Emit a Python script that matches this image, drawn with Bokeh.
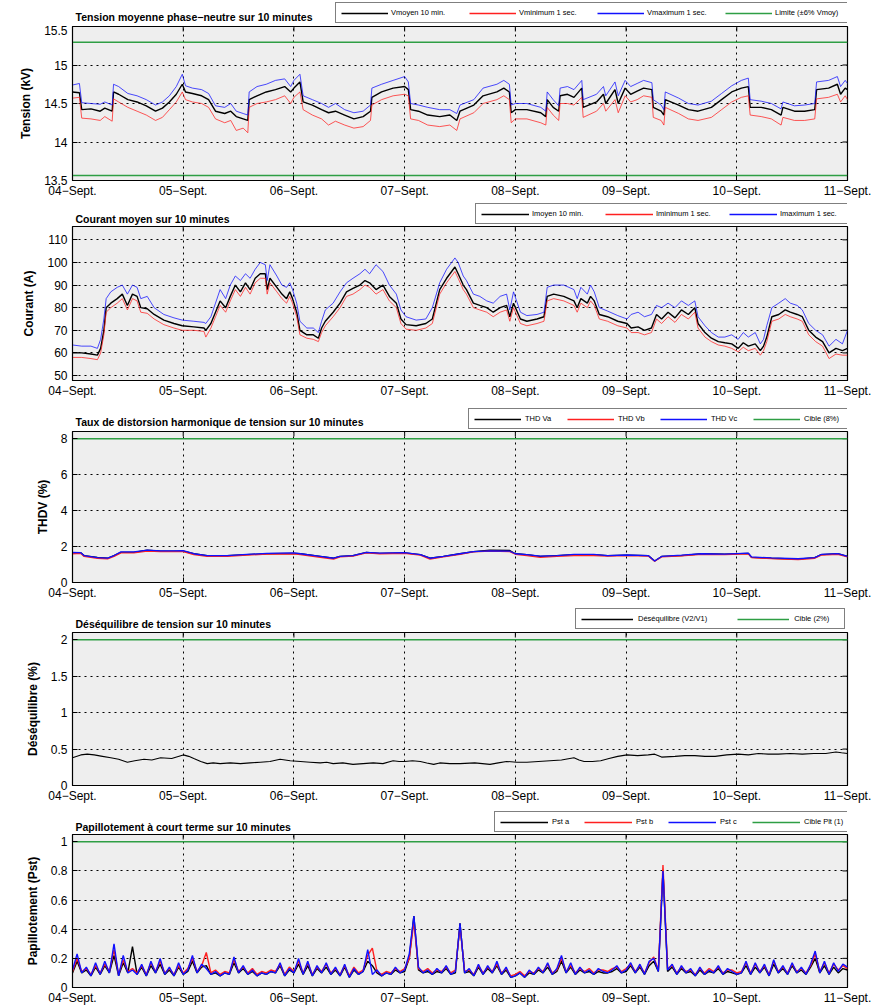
import math

from bokeh.embed import file_html
from bokeh.layouts import column
from bokeh.models import FixedTicker, Label, Legend, LegendItem, Range1d
from bokeh.plotting import figure
from bokeh.resources import INLINE

# ---------------------------------------------------------------------------
# Time axis: hours elapsed since 04-Sept 00:00
# ---------------------------------------------------------------------------
DAY_TICKS = [0, 24, 48, 72, 96, 120, 144, 168]
DAY_LABELS = ["04−Sept.", "05−Sept.", "06−Sept.", "07−Sept.",
              "08−Sept.", "09−Sept.", "10−Sept.", "11−Sept."]

# ---------------------------------------------------------------------------
# Panel 1 - phase-to-neutral voltage (kV)
# ---------------------------------------------------------------------------
tension_h = [0, 1.5, 2.0, 4, 6, 7, 8.6, 8.9, 10, 12,
             14, 16, 18, 19.5, 21, 22.5, 23.8, 24.5, 26, 28,
             29.5, 31, 33, 34.3, 35.5, 37, 38, 38.3, 40, 42,
             44, 46, 47.3, 48, 49.3, 50, 52, 54, 55.5, 57,
             59, 61, 63, 64.6, 64.9, 67, 69.5, 72, 72.8, 73.3,
             75, 77, 79.6, 81.8, 83.3, 84, 87, 89, 92, 93.5,
             94.7, 95.1, 96, 98.5, 101.5, 102.6, 102.9, 104.2, 105.4, 105.7,
             107.3, 108.7, 110.4, 110.7, 113.6, 115.1, 115.6, 117.6, 118.3, 119.8,
             121, 122.4, 123.8, 125.6, 125.9, 127.6, 128.2, 128.5, 131.4, 133.5,
             135.6, 138.5, 140.7, 142.9, 145, 146.5, 146.9, 149.3, 151.5, 153.6,
             154, 156.5, 158.7, 160.9, 161.3, 163.9, 165.8, 166.5, 167.5, 168]
v_moyen = [14.65, 14.64, 14.42, 14.43, 14.40, 14.44, 14.40, 14.65, 14.62, 14.55,
           14.52, 14.47, 14.40, 14.44, 14.52, 14.62, 14.75, 14.65, 14.63, 14.60,
           14.55, 14.40, 14.37, 14.40, 14.33, 14.30, 14.28, 14.55, 14.60, 14.65,
           14.68, 14.72, 14.65, 14.70, 14.78, 14.52, 14.48, 14.42, 14.38, 14.40,
           14.35, 14.30, 14.33, 14.40, 14.58, 14.65, 14.70, 14.72, 14.68, 14.42,
           14.40, 14.35, 14.33, 14.35, 14.28, 14.40, 14.48, 14.60, 14.65, 14.70,
           14.65, 14.38, 14.42, 14.42, 14.38, 14.33, 14.55, 14.45, 14.40, 14.60,
           14.62, 14.58, 14.70, 14.45, 14.52, 14.62, 14.50, 14.68, 14.50, 14.70,
           14.62, 14.66, 14.70, 14.68, 14.45, 14.40, 14.35, 14.55, 14.48, 14.42,
           14.40, 14.45, 14.55, 14.65, 14.70, 14.72, 14.45, 14.45, 14.42, 14.35,
           14.45, 14.40, 14.40, 14.42, 14.68, 14.70, 14.75, 14.62, 14.70, 14.68]
v_minimum = [14.57, 14.58, 14.31, 14.30, 14.28, 14.33, 14.27, 14.56, 14.52, 14.45,
             14.40, 14.35, 14.28, 14.32, 14.42, 14.52, 14.65, 14.55, 14.52, 14.50,
             14.45, 14.30, 14.25, 14.28, 14.15, 14.18, 14.12, 14.45, 14.50, 14.52,
             14.55, 14.60, 14.50, 14.58, 14.65, 14.42, 14.35, 14.30, 14.22, 14.27,
             14.22, 14.18, 14.20, 14.28, 14.48, 14.55, 14.60, 14.62, 14.60, 14.30,
             14.28, 14.22, 14.20, 14.22, 14.15, 14.30, 14.38, 14.50, 14.55, 14.60,
             14.55, 14.25, 14.30, 14.30, 14.25, 14.22, 14.45, 14.35, 14.28, 14.50,
             14.50, 14.48, 14.58, 14.32, 14.40, 14.50, 14.40, 14.55, 14.38, 14.60,
             14.52, 14.55, 14.60, 14.58, 14.32, 14.28, 14.22, 14.45, 14.37, 14.30,
             14.28, 14.32, 14.42, 14.52, 14.58, 14.60, 14.35, 14.33, 14.30, 14.22,
             14.32, 14.28, 14.28, 14.30, 14.56, 14.58, 14.62, 14.52, 14.60, 14.55]
v_maximum = [14.74, 14.76, 14.51, 14.50, 14.49, 14.52, 14.48, 14.75, 14.72, 14.63,
             14.60, 14.55, 14.48, 14.52, 14.60, 14.72, 14.88, 14.73, 14.70, 14.68,
             14.63, 14.47, 14.45, 14.50, 14.40, 14.37, 14.35, 14.65, 14.72, 14.75,
             14.80, 14.82, 14.72, 14.80, 14.88, 14.60, 14.55, 14.50, 14.45, 14.50,
             14.42, 14.38, 14.40, 14.48, 14.70, 14.75, 14.80, 14.85, 14.78, 14.50,
             14.48, 14.45, 14.42, 14.42, 14.37, 14.48, 14.55, 14.70, 14.75, 14.80,
             14.75, 14.48, 14.50, 14.50, 14.45, 14.40, 14.65, 14.55, 14.47, 14.70,
             14.72, 14.68, 14.80, 14.55, 14.62, 14.72, 14.60, 14.78, 14.60, 14.80,
             14.72, 14.76, 14.80, 14.77, 14.55, 14.48, 14.42, 14.65, 14.57, 14.50,
             14.48, 14.53, 14.63, 14.73, 14.80, 14.83, 14.55, 14.53, 14.50, 14.43,
             14.52, 14.47, 14.48, 14.50, 14.78, 14.80, 14.85, 14.72, 14.80, 14.76]
V_NOMINAL = 14.43          # 25 kV / sqrt(3)
LIMIT_PCT = 6.0            # +/- 6 %

# ---------------------------------------------------------------------------
# Panel 2 - current (A)
# ---------------------------------------------------------------------------
courant_h = [0, 2, 4, 5.4, 6.1, 6.8, 7.3, 8.3, 9.7, 10.8,
             11.9, 13, 14, 14.8, 16.2, 17.7, 19.8, 22, 23.8, 26.3,
             28.5, 28.9, 30, 31, 32, 33.2, 34.2, 35.3, 36.4, 37.5,
             38.5, 39.6, 40.7, 41.8, 42.2, 42.8, 44.3, 45.4, 46.4, 47.1,
             47.7, 48.6, 49.3, 50.8, 52.2, 53.3, 54, 54.8, 56.5, 58,
             59.4, 60.8, 62.3, 63.4, 64.4, 65.8, 67.3, 68.7, 70.2, 71.2,
             72.3, 74.5, 76.6, 78, 79.6, 81.1, 82.9, 83.6, 84.7, 85.4,
             86.9, 88.3, 89.8, 91.2, 92.7, 94.1, 94.8, 95.6, 97.1, 98.5,
             100.7, 102.2, 102.9, 104.3, 106.5, 108.7, 109.4, 110.2, 111.6, 112.3,
             113.1, 114.2, 116, 118.2, 120.2, 121.1, 122.6, 124, 125.5, 126.6,
             127.7, 129.1, 130.6, 132, 133.5, 134.9, 135.6, 137.1, 138.5, 140,
             141.4, 142.9, 144.3, 145.4, 146.5, 148, 149.1, 149.8, 150.5, 151.6,
             153.1, 154.5, 155.6, 157.1, 158.2, 159.6, 161.1, 162.6, 164, 165.5,
             166.9, 168]
i_moyen = [60, 60, 59.5, 59, 62, 70, 80, 82, 84, 86,
           81, 86, 85, 80, 79.5, 77, 74.5, 73, 72, 71.5,
           71, 70, 73, 78, 83, 80, 85, 90, 87, 91,
           88, 93, 95, 95, 88, 93, 89, 86, 84, 87,
           84, 78, 70, 68, 68, 66.5, 71, 74, 78, 82,
           87, 88.5, 90, 92, 91, 88, 90, 85, 82, 75,
           72.5, 72, 73, 75, 88, 93, 98, 95, 90, 88,
           82, 81, 80, 78, 80, 81, 76, 82, 75, 74,
           75, 76, 85, 86, 85, 83, 80, 84, 82, 85,
           83, 77, 76, 74, 73, 71, 71.5, 70, 71, 77,
           75, 78, 75.5, 79, 77, 80, 73, 69, 66.5, 65,
           64.5, 64, 62, 64.5, 63, 64, 61, 63, 67, 76,
           77, 79, 78, 77, 76, 70, 67, 65, 60, 62,
           61, 62]
i_minimum = [58, 58, 57.5, 57, 60, 68, 78, 80, 82, 84,
             79, 84, 83, 78, 77.5, 75, 72.5, 71, 70, 70,
             69.5, 67, 71, 76, 81, 78, 83, 88, 85, 89,
             86, 91, 93, 93, 86, 91, 87, 84, 82, 85,
             82, 76, 68, 66.5, 66, 65, 69, 72, 76, 80,
             85, 86, 88, 90, 89, 86, 88, 83, 80, 73,
             70.5, 70, 71, 73, 86, 91, 96, 93, 88, 86,
             80, 79, 78, 76, 78, 79, 74, 80, 73, 72,
             73, 74, 83, 84, 83, 81, 78, 82, 80, 83,
             81, 75, 74, 72, 71, 69, 69, 68, 69, 75,
             73, 76, 73.5, 77, 75, 78, 71, 67, 65, 63.5,
             63, 62, 60.5, 62.5, 61, 62, 59, 61, 65, 74,
             75, 77, 76, 75, 74, 68, 65, 63, 57.5, 59.5,
             59, 59]
i_maximum = [63.5, 63, 63, 62, 66, 75, 84, 87, 89, 90,
             86, 90, 89, 84, 85, 80, 77, 75.5, 74.5, 74,
             73.5, 73, 76, 82, 88, 84, 90, 94, 92, 95,
             93, 97, 100, 99, 92, 99, 94, 90, 89, 91,
             88, 82, 74, 71, 71, 69, 74, 79, 82, 87,
             91, 93, 95, 97, 95, 99, 96, 90, 86, 79,
             76, 74.5, 75, 80, 91, 97, 102, 100, 94, 92,
             86, 85, 83, 82, 85, 86, 79, 87, 78, 76.5,
             77, 78, 89, 90, 90, 88, 84, 89, 86, 90,
             87, 80, 78.5, 76.5, 75, 77, 78, 76, 77, 81,
             80, 82, 80, 83, 81, 83, 76, 72, 69, 67,
             67, 68, 66, 69, 67, 69, 64, 66, 72, 80,
             82, 84, 82, 81, 79, 73, 70, 68, 63, 66,
             64, 70]

# ---------------------------------------------------------------------------
# Panel 3 - voltage THD (%)
# ---------------------------------------------------------------------------
thd_h = [0, 1.8, 2.5, 5.4, 7.6, 9, 10.5, 13.3, 16.2, 19.1,
         22, 24, 26.3, 29.2, 33.5, 37.8, 42.1, 48, 49.4, 53.7,
         56.6, 58, 60.8, 63.7, 66.6, 72, 75.4, 77.5, 80.4, 84,
         86.9, 90.5, 94.8, 96, 98.5, 101.4, 105, 108.7, 113, 116,
         120.2, 124.8, 126.2, 127.7, 132, 136.4, 141.4, 146.5, 147.2, 151.5,
         157.3, 160.9, 162.3, 165.9, 168]
thd_va = [1.65, 1.65, 1.5, 1.4, 1.35, 1.5, 1.68, 1.68, 1.8, 1.75,
          1.75, 1.75, 1.6, 1.5, 1.5, 1.55, 1.6, 1.62, 1.6, 1.45,
          1.35, 1.45, 1.5, 1.68, 1.62, 1.65, 1.55, 1.35, 1.45, 1.6,
          1.72, 1.8, 1.78, 1.6, 1.55, 1.45, 1.5, 1.55, 1.55, 1.5,
          1.52, 1.5, 1.2, 1.45, 1.5, 1.6, 1.58, 1.62, 1.4, 1.35,
          1.3, 1.38, 1.55, 1.6, 1.45]
thd_vb = [1.6, 1.62, 1.45, 1.35, 1.32, 1.45, 1.65, 1.65, 1.75, 1.72,
          1.72, 1.72, 1.55, 1.45, 1.45, 1.52, 1.58, 1.6, 1.55, 1.4,
          1.3, 1.42, 1.47, 1.65, 1.6, 1.62, 1.52, 1.3, 1.42, 1.57,
          1.7, 1.75, 1.72, 1.57, 1.5, 1.4, 1.45, 1.5, 1.5, 1.47,
          1.5, 1.47, 1.18, 1.42, 1.48, 1.57, 1.55, 1.6, 1.38, 1.33,
          1.28, 1.35, 1.52, 1.57, 1.42]
thd_vc = [1.67, 1.66, 1.5, 1.38, 1.36, 1.5, 1.7, 1.7, 1.8, 1.76,
          1.76, 1.77, 1.6, 1.5, 1.5, 1.56, 1.62, 1.65, 1.6, 1.45,
          1.35, 1.45, 1.5, 1.68, 1.63, 1.66, 1.55, 1.35, 1.45, 1.6,
          1.72, 1.76, 1.74, 1.6, 1.55, 1.47, 1.5, 1.56, 1.56, 1.5,
          1.53, 1.5, 1.2, 1.45, 1.52, 1.6, 1.58, 1.63, 1.42, 1.37,
          1.32, 1.38, 1.56, 1.61, 1.46]
THD_TARGET = 8.0

# ---------------------------------------------------------------------------
# Panel 4 - voltage unbalance V2/V1 (%)
# ---------------------------------------------------------------------------
deseq_h = [0, 1.8, 3.2, 4.7, 6.5, 8.3, 10, 11.9, 13.5, 15.5,
           17.2, 19.1, 21.5, 24, 25.2, 26.3, 27.8, 29.2, 30.5, 32,
           34.2, 36.4, 38.5, 40.7, 42.8, 45, 47.2, 49.4, 51.5, 53.7,
           55.1, 56.5, 58.6, 60.8, 63, 65.2, 67.3, 69.5, 70.8, 72,
           73.7, 75.4, 76.8, 78.3, 79.6, 81.8, 84, 87.2, 90.5, 92.3,
           94.1, 96.3, 98.5, 101, 103.5, 106, 108.7, 109.8, 110.9, 112.7,
           114.5, 116.3, 118.2, 120.2, 122.5, 124.8, 126.2, 127.7, 130.6, 132.7,
           134.9, 137.1, 139.3, 141.8, 144.3, 146.5, 148.7, 150.8, 153, 155.6,
           158.2, 160.7, 163.3, 165.5, 166.7, 168]
deseq = [0.38, 0.42, 0.43, 0.42, 0.40, 0.38, 0.36, 0.32, 0.34, 0.36,
         0.35, 0.38, 0.37, 0.42, 0.40, 0.37, 0.33, 0.30, 0.31, 0.30,
         0.31, 0.30, 0.31, 0.32, 0.33, 0.36, 0.34, 0.33, 0.32, 0.31,
         0.32, 0.30, 0.31, 0.29, 0.30, 0.31, 0.30, 0.34, 0.33, 0.33,
         0.34, 0.33, 0.31, 0.29, 0.31, 0.30, 0.30, 0.31, 0.29, 0.31,
         0.33, 0.32, 0.32, 0.33, 0.34, 0.35, 0.38, 0.35, 0.33, 0.33,
         0.34, 0.37, 0.40, 0.42, 0.41, 0.42, 0.43, 0.39, 0.40, 0.41,
         0.41, 0.40, 0.40, 0.42, 0.43, 0.42, 0.44, 0.43, 0.43, 0.44,
         0.43, 0.44, 0.44, 0.46, 0.45, 0.44]
DESEQ_TARGET = 2.0

# ---------------------------------------------------------------------------
# Panel 5 - short-term flicker Pst, one value per hour
# ---------------------------------------------------------------------------
pst_h = list(range(169))
pst_a = [0.10, 0.18, 0.10, 0.12, 0.08, 0.14, 0.09, 0.15, 0.10, 0.22, 0.08, 0.17,
         0.10, 0.28, 0.09, 0.14, 0.08, 0.15, 0.10, 0.16, 0.09, 0.12, 0.08, 0.14,
         0.09, 0.11, 0.18, 0.10, 0.14, 0.15, 0.09, 0.10, 0.08, 0.10, 0.09, 0.17,
         0.10, 0.13, 0.09, 0.11, 0.08, 0.10, 0.09, 0.11, 0.10, 0.15, 0.08, 0.12,
         0.10, 0.16, 0.09, 0.15, 0.08, 0.13, 0.10, 0.14, 0.09, 0.12, 0.08, 0.14,
         0.07, 0.12, 0.09, 0.11, 0.18, 0.15, 0.10, 0.08, 0.10, 0.09, 0.12, 0.10,
         0.11, 0.20, 0.49, 0.12, 0.10, 0.11, 0.09, 0.11, 0.10, 0.13, 0.09, 0.10,
         0.44, 0.10, 0.11, 0.08, 0.14, 0.09, 0.13, 0.10, 0.15, 0.09, 0.12, 0.07,
         0.08, 0.10, 0.07, 0.10, 0.09, 0.12, 0.10, 0.14, 0.09, 0.11, 0.18, 0.10,
         0.14, 0.09, 0.12, 0.10, 0.11, 0.09, 0.11, 0.10, 0.10, 0.11, 0.13, 0.10,
         0.11, 0.15, 0.10, 0.14, 0.09, 0.15, 0.18, 0.11, 0.80, 0.11, 0.14, 0.09,
         0.13, 0.10, 0.11, 0.08, 0.12, 0.09, 0.11, 0.10, 0.13, 0.09, 0.11, 0.10,
         0.09, 0.10, 0.15, 0.09, 0.14, 0.10, 0.14, 0.08, 0.16, 0.10, 0.13, 0.09,
         0.15, 0.10, 0.12, 0.09, 0.14, 0.20, 0.10, 0.15, 0.09, 0.14, 0.10, 0.13,
         0.12]
pst_b = [0.11, 0.20, 0.11, 0.13, 0.09, 0.15, 0.10, 0.16, 0.11, 0.26, 0.09, 0.19,
         0.11, 0.13, 0.10, 0.15, 0.09, 0.17, 0.11, 0.18, 0.10, 0.13, 0.09, 0.15,
         0.10, 0.13, 0.20, 0.11, 0.15, 0.24, 0.10, 0.12, 0.09, 0.11, 0.10, 0.19,
         0.11, 0.14, 0.10, 0.13, 0.09, 0.11, 0.10, 0.12, 0.11, 0.16, 0.09, 0.14,
         0.11, 0.18, 0.10, 0.17, 0.09, 0.14, 0.11, 0.16, 0.10, 0.13, 0.09, 0.15,
         0.08, 0.14, 0.10, 0.12, 0.22, 0.27, 0.11, 0.09, 0.11, 0.10, 0.13, 0.11,
         0.13, 0.20, 0.45, 0.13, 0.11, 0.13, 0.10, 0.12, 0.11, 0.14, 0.10, 0.12,
         0.42, 0.11, 0.12, 0.09, 0.15, 0.10, 0.14, 0.11, 0.16, 0.10, 0.13, 0.08,
         0.09, 0.11, 0.08, 0.11, 0.10, 0.13, 0.11, 0.16, 0.10, 0.12, 0.20, 0.11,
         0.15, 0.10, 0.13, 0.11, 0.13, 0.10, 0.12, 0.12, 0.11, 0.13, 0.14, 0.11,
         0.13, 0.16, 0.11, 0.15, 0.10, 0.17, 0.21, 0.12, 0.84, 0.13, 0.15, 0.10,
         0.14, 0.11, 0.12, 0.09, 0.13, 0.10, 0.13, 0.11, 0.14, 0.10, 0.12, 0.12,
         0.10, 0.11, 0.17, 0.10, 0.16, 0.11, 0.15, 0.09, 0.18, 0.11, 0.14, 0.10,
         0.16, 0.11, 0.13, 0.10, 0.15, 0.23, 0.11, 0.17, 0.10, 0.16, 0.12, 0.15,
         0.13]
pst_c = [0.12, 0.23, 0.10, 0.14, 0.08, 0.17, 0.09, 0.18, 0.10, 0.30, 0.08, 0.22,
         0.10, 0.12, 0.09, 0.16, 0.08, 0.18, 0.10, 0.20, 0.09, 0.14, 0.08, 0.17,
         0.09, 0.12, 0.22, 0.10, 0.16, 0.13, 0.09, 0.11, 0.08, 0.10, 0.09, 0.21,
         0.10, 0.15, 0.09, 0.12, 0.08, 0.10, 0.09, 0.11, 0.10, 0.17, 0.08, 0.13,
         0.10, 0.20, 0.09, 0.18, 0.08, 0.15, 0.10, 0.17, 0.09, 0.14, 0.08, 0.16,
         0.07, 0.13, 0.09, 0.11, 0.26, 0.09, 0.12, 0.08, 0.10, 0.09, 0.14, 0.10,
         0.12, 0.23, 0.49, 0.14, 0.10, 0.12, 0.09, 0.13, 0.10, 0.15, 0.09, 0.11,
         0.44, 0.10, 0.13, 0.08, 0.16, 0.09, 0.15, 0.10, 0.18, 0.09, 0.14, 0.07,
         0.08, 0.10, 0.07, 0.12, 0.09, 0.14, 0.10, 0.17, 0.09, 0.13, 0.22, 0.10,
         0.17, 0.09, 0.14, 0.10, 0.12, 0.09, 0.13, 0.11, 0.10, 0.12, 0.15, 0.10,
         0.12, 0.17, 0.10, 0.16, 0.09, 0.18, 0.20, 0.11, 0.80, 0.12, 0.16, 0.09,
         0.15, 0.10, 0.13, 0.08, 0.14, 0.09, 0.12, 0.10, 0.15, 0.09, 0.13, 0.11,
         0.09, 0.10, 0.18, 0.09, 0.17, 0.10, 0.16, 0.08, 0.19, 0.10, 0.15, 0.09,
         0.17, 0.10, 0.14, 0.09, 0.16, 0.25, 0.10, 0.18, 0.09, 0.17, 0.11, 0.16,
         0.14]
PLT_TARGET = 1.0

# ---------------------------------------------------------------------------
# Styling
# ---------------------------------------------------------------------------
FONT = "Liberation Sans"
C_BLACK = "#000000"
C_RED = "#ff2020"
C_BLUE = "#1010ff"
C_GREEN = "#2e9e44"
X_START, X_END = DAY_TICKS[0], DAY_TICKS[-1]
FIG_W = 892
LEFT, RIGHT = 72, 45
TICK_PX = 5


def make_panel(ylabel, ylim, yticks, ylabels, frame_h, bottom):
    height = 1 + frame_h + bottom
    p = figure(width=FIG_W, height=height,
               x_range=Range1d(X_START, X_END), y_range=Range1d(*ylim),
               output_backend="svg", toolbar_location=None,
               min_border_left=LEFT, min_border_right=RIGHT,
               min_border_top=1, min_border_bottom=bottom,
               background_fill_color="#eeeeee", border_fill_color="white",
               outline_line_color="black", outline_line_width=1.2)

    p.xaxis.ticker = FixedTicker(ticks=DAY_TICKS)
    p.xaxis.major_label_overrides = dict(zip(DAY_TICKS, DAY_LABELS))
    p.xaxis.major_label_standoff = 3
    p.yaxis.ticker = FixedTicker(ticks=yticks)
    p.yaxis.major_label_overrides = dict(zip(yticks, ylabels))
    p.yaxis.major_label_standoff = 5
    p.yaxis.axis_label = ylabel
    p.yaxis.axis_label_text_font = FONT
    p.yaxis.axis_label_text_font_size = "12px"
    p.yaxis.axis_label_text_font_style = "bold"
    p.yaxis.axis_label_text_color = "black"
    p.yaxis.axis_label_standoff = 8
    for ax in p.axis:
        ax.major_tick_in = TICK_PX
        ax.major_tick_out = 0
        ax.minor_tick_line_color = None
        ax.axis_line_color = "black"
        ax.major_tick_line_color = "black"
        ax.major_label_text_font = FONT
        ax.major_label_text_font_size = "12px"
        ax.major_label_text_color = "black"

    # dotted reference grid
    p.xgrid.ticker = FixedTicker(ticks=DAY_TICKS)
    p.ygrid.ticker = FixedTicker(ticks=yticks)
    for g in (p.xgrid, p.ygrid):
        g.grid_line_color = "black"
        g.grid_line_dash = "2 4"
        g.grid_line_alpha = 1.0

    # inward tick marks along the right and top edges of the box
    p.ray(x=[X_END] * len(yticks), y=yticks, length=TICK_PX, length_units="screen",
          angle=math.pi, line_color="black", line_width=1)
    p.ray(x=DAY_TICKS, y=[ylim[1]] * len(DAY_TICKS), length=TICK_PX,
          length_units="screen", angle=-math.pi / 2, line_color="black", line_width=1)
    return p


def make_header(title, height, title_y, entries, legend_x, legend_y,
                glyph_w, standoff, label_w, spacing, pad):
    """Title on the left and a boxed horizontal legend on the right."""
    h = figure(width=FIG_W, height=height, x_range=Range1d(0, 1), y_range=Range1d(0, 1),
               output_backend="svg", toolbar_location=None,
               x_axis_type=None, y_axis_type=None,
               min_border_left=LEFT, min_border_right=0,
               min_border_top=0, min_border_bottom=0,
               background_fill_color="white", border_fill_color="white",
               outline_line_color=None)
    h.grid.visible = False
    h.add_layout(Label(x=3, y=title_y, x_units="screen", y_units="screen",
                       text=title, text_font=FONT, text_font_size="10.5px",
                       text_font_style="bold", text_color="black",
                       text_baseline="bottom"))
    items = []
    for lab, color in entries:
        # one-point stand-in: only its style is used, for the legend swatch
        r = h.line([-1], [-1], line_color=color, line_width=1.3)
        items.append(LegendItem(label=lab, renderers=[r]))
    legend = Legend(items=items, location=(legend_x, legend_y), orientation="horizontal",
                    glyph_width=glyph_w, glyph_height=8, label_standoff=standoff,
                    label_width=label_w, label_height=8, spacing=spacing, padding=pad,
                    margin=0, border_line_color="black", border_line_width=1.3,
                    background_fill_color="white", background_fill_alpha=1,
                    label_text_font=FONT, label_text_font_size="7.5px",
                    label_text_color="black")
    h.add_layout(legend, "center")
    return h


def hline(p, level):
    return p.line([X_START, X_END], [level, level], line_color=C_GREEN, line_width=1.5)


# --- Panel 1 -----------------------------------------------------------------
h1 = make_header("Tension moyenne phase−neutre sur 10 minutes", 25, 2.5,
                 [("Vmoyen 10 min.", C_BLACK), ("Vminimum 1 sec.", C_RED),
                  ("Vmaximum 1 sec.", C_BLUE), ("Limite (±6% Vmoy)", C_GREEN)],
                 263, 2, 47, 3, 70, 8, 5)
p1 = make_panel("Tension (kV)", (13.5, 15.5), [13.5, 14, 14.5, 15, 15.5],
                ["13.5", "14", "14.5", "15", "15.5"], 154, 23)
p1.line(tension_h, v_moyen, line_color=C_BLACK, line_width=1.4)
p1.line(tension_h, v_minimum, line_color=C_RED, line_width=1, line_alpha=0.75)
p1.line(tension_h, v_maximum, line_color=C_BLUE, line_width=1, line_alpha=0.75)
hline(p1, V_NOMINAL * (1 + LIMIT_PCT / 100))
hline(p1, V_NOMINAL * (1 - LIMIT_PCT / 100))

# --- Panel 2 -----------------------------------------------------------------
h2 = make_header("Courant moyen sur 10 minutes", 22, 1,
                 [("Imoyen 10 min.", C_BLACK), ("Iminimum 1 sec.", C_RED),
                  ("Imaximum 1 sec.", C_BLUE)],
                 403, 1, 48, 3, 64, 9, 5)
p2 = make_panel("Courant (A)", (47.8, 115.9), [50, 60, 70, 80, 90, 100, 110],
                ["50", "60", "70", "80", "90", "100", "110"], 154, 25)
p2.line(courant_h, i_moyen, line_color=C_BLACK, line_width=1.4)
p2.line(courant_h, i_minimum, line_color=C_RED, line_width=1, line_alpha=0.75)
p2.line(courant_h, i_maximum, line_color=C_BLUE, line_width=1, line_alpha=0.75)

# --- Panel 3 -----------------------------------------------------------------
h3 = make_header("Taux de distorsion harmonique de tension sur 10 minutes", 25, 2.5,
                 [("THD Va", C_BLACK), ("THD Vb", C_RED), ("THD Vc", C_BLUE),
                  ("Cible (8%)", C_GREEN)],
                 396, 1, 47, 4, 38, 4, 5)
p3 = make_panel("THDV (%)", (0, THD_TARGET * 1.05), [0, 2, 4, 6, 8],
                ["0", "2", "4", "6", "8"], 151, 25)
p3.line(thd_h, thd_va, line_color=C_BLACK, line_width=1.3)
p3.line(thd_h, thd_vb, line_color=C_RED, line_width=1.3)
p3.line(thd_h, thd_vc, line_color=C_BLUE, line_width=1.3)
hline(p3, THD_TARGET)

# --- Panel 4 -----------------------------------------------------------------
h4 = make_header("Déséquilibre de tension sur 10 minutes", 24, 1.5,
                 [("Déséquilibre (V2/V1)", C_BLACK), ("Cible (2%)", C_GREEN)],
                 503, 2, 52, 5, 45, 30, 5)
p4 = make_panel("Déséquilibre (%)", (0, DESEQ_TARGET * 1.05), [0, 0.5, 1, 1.5, 2],
                ["0", "0.5", "1", "1.5", "2"], 153, 24)
p4.line(deseq_h, deseq, line_color=C_BLACK, line_width=1.1)
hline(p4, DESEQ_TARGET)

# --- Panel 5 -----------------------------------------------------------------
h5 = make_header("Papillotement à court terme sur 10 minutes", 24, 1,
                 [("Pst a", C_BLACK), ("Pst b", C_RED), ("Pst c", C_BLUE),
                  ("Cible Plt (1)", C_GREEN)],
                 422, 1, 48, 4, 25, 7, 5)
p5 = make_panel("Papillotement (Pst)", (0, PLT_TARGET * 1.05), [0, 0.2, 0.4, 0.6, 0.8, 1],
                ["0", "0.2", "0.4", "0.6", "0.8", "1"], 154, 19)
p5.line(pst_h, pst_a, line_color=C_BLACK, line_width=1.4)
p5.line(pst_h, pst_b, line_color=C_RED, line_width=1.4)
p5.line(pst_h, pst_c, line_color=C_BLUE, line_width=1.4)
hline(p5, PLT_TARGET)

layout = column(h1, p1, h2, p2, h3, p3, h4, p4, h5, p5, spacing=0)
open("out.html", "w").write(file_html(layout, INLINE))
